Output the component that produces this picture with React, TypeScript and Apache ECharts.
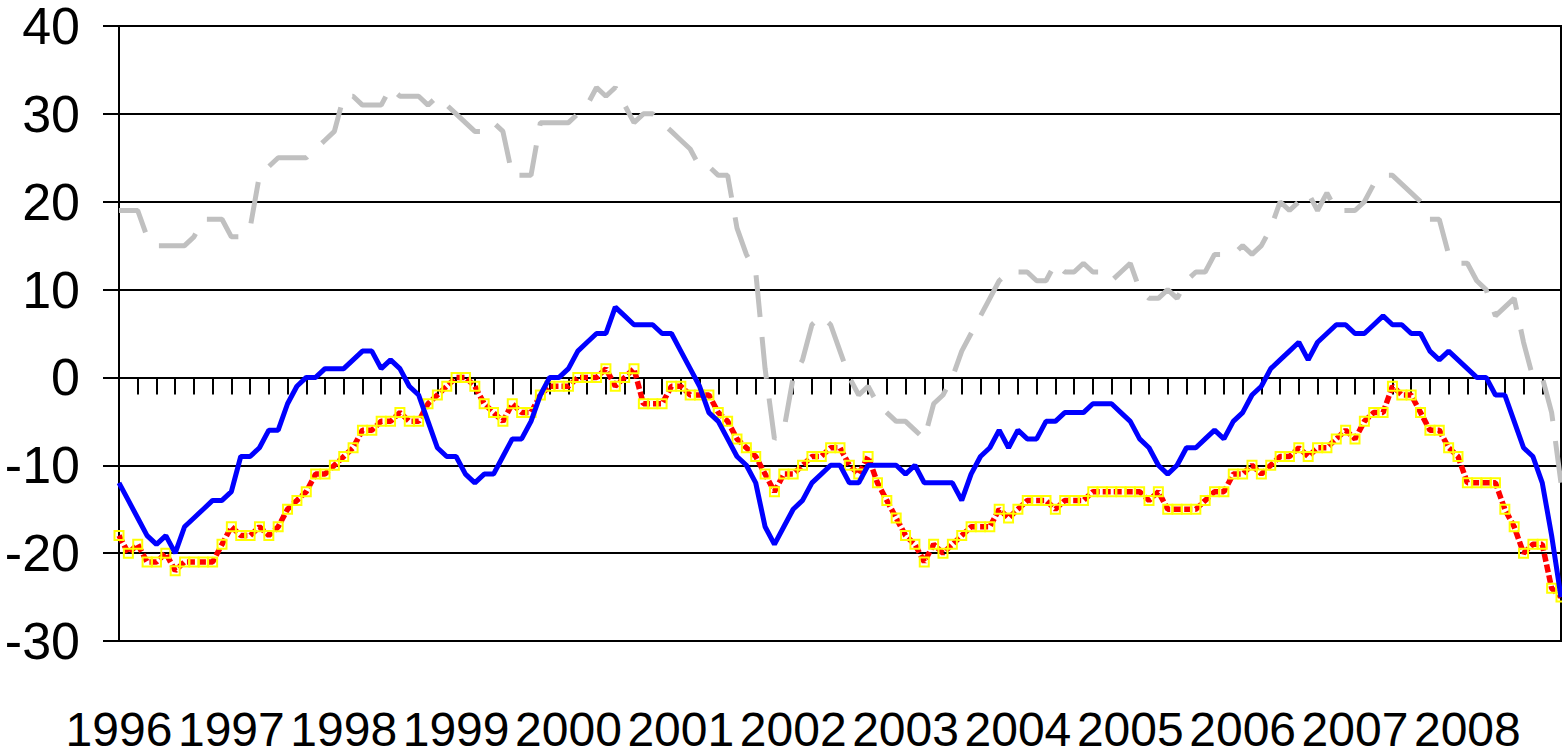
import { useEffect, useRef } from "react";
import * as echarts from "echarts";

// Monthly observations, January 1996 – November 2008
const years = [1996, 1997, 1998, 1999, 2000, 2001, 2002, 2003, 2004, 2005, 2006, 2007, 2008];

const blueSeries = [
  -12, -14, -16, -18, -19, -18, -20, -17, -16, -15, -14, -14,
  -13, -9, -9, -8, -6, -6, -3, -1, 0, 0, 1, 1,
  1, 2, 3, 3, 1, 2, 1, -1, -2, -5, -8, -9,
  -9, -11, -12, -11, -11, -9, -7, -7, -5, -2, 0, 0,
  1, 3, 4, 5, 5, 8, 7, 6, 6, 6, 5, 5,
  3, 1, -1, -4, -5, -7, -9, -10, -12, -17, -19, -17,
  -15, -14, -12, -11, -10, -10, -12, -12, -10, -10, -10, -10,
  -11, -10, -12, -12, -12, -12, -14, -11, -9, -8, -6, -8,
  -6, -7, -7, -5, -5, -4, -4, -4, -3, -3, -3, -4,
  -5, -7, -8, -10, -11, -10, -8, -8, -7, -6, -7, -5,
  -4, -2, -1, 1, 2, 3, 4, 2, 4, 5, 6, 6,
  5, 5, 6, 7, 6, 6, 5, 5, 3, 2, 3, 2,
  1, 0, 0, -2, -2, -5, -8, -9, -12, -18, -25,
];

const redSeries = [
  -18, -20, -19, -21, -21, -20, -22, -21, -21, -21, -21, -19,
  -17, -18, -18, -17, -18, -17, -15, -14, -13, -11, -11, -10,
  -9, -8, -6, -6, -5, -5, -4, -5, -5, -3, -2, -1,
  0, 0, -1, -3, -4, -5, -3, -4, -4, -2, -1, -1,
  -1, 0, 0, 0, 1, -1, 0, 1, -3, -3, -3, -1,
  -1, -2, -2, -2, -4, -5, -7, -8, -9, -11, -13, -11,
  -11, -10, -9, -9, -8, -8, -10, -11, -9, -12, -14, -16,
  -18, -19, -21, -19, -20, -19, -18, -17, -17, -17, -15, -16,
  -15, -14, -14, -14, -15, -14, -14, -14, -13, -13, -13, -13,
  -13, -13, -14, -13, -15, -15, -15, -15, -14, -13, -13, -11,
  -11, -10, -11, -10, -9, -9, -8, -9, -8, -8, -7, -6,
  -7, -5, -4, -4, -1, -2, -2, -4, -6, -6, -8, -9,
  -12, -12, -12, -12, -15, -17, -20, -19, -19, -24, -25,
];

const greySeries = [
  19, 19, 19, 16, 15, 15, 15, 15, 16, 18, 18, 18,
  16, 16, 17, 23, 24, 25, 25, 25, 25, 26, 27, 28,
  32, 32, 31, 31, 31, 33, 32, 32, 32, 31, 32, 31,
  30, 29, 28, 28, 29, 28, 23, 23, 23, 29, 29, 29,
  29, 30, 31, 33, 32, 33, 31, 29, 30, 30, 29, 28,
  27, 26, 24, 24, 23, 23, 17, 14, 12, 1, -7, -6,
  0, 2, 6, 7, 6, 3, 0, -2, -1, -3, -4, -5,
  -5, -6, -7, -3, -2, 0, 3, 5, 7, 9, 11, 12,
  12, 12, 11, 11, 13, 12, 12, 13, 12, 12, 11, 12,
  13, 10, 9, 9, 10, 9, 11, 12, 12, 14, 14, 14,
  15, 14, 15, 17, 20, 19, 20, 21, 19, 21, 19, 19,
  19, 20, 22, 23, 23, 22, 21, 20, 18, 18, 14, 13,
  13, 11, 10, 7, 8, 9, 4, 0, 0, -4, -12,
];

const months = years
  .flatMap((y) => Array.from({ length: 12 }, (_, m) => `${y}-${String(m + 1).padStart(2, "0")}`))
  .slice(0, blueSeries.length);

const FONT = "'Liberation Sans', Arial, Helvetica, sans-serif";
const black = { color: "#000", width: 2 };

export default function App() {
  const ref = useRef<HTMLDivElement>(null);

  useEffect(() => {
    if (!ref.current) return;
    const chart = echarts.init(ref.current, null, { renderer: "svg" });
    chart.setOption({
      animation: false,
      backgroundColor: "#fff",
      grid: {
        left: 119,
        top: 25,
        width: 1442,
        height: 616,
        show: true,
        borderColor: "#000",
        borderWidth: 2,
      },
      xAxis: [
        {
          type: "category",
          position: "bottom",
          data: months,
          boundaryGap: false,
          axisLine: { show: true, onZero: true, lineStyle: black },
          axisTick: { show: true, interval: 1, length: 17, lineStyle: black },
          axisLabel: { show: false },
          splitLine: { show: false },
        },
        {
          type: "category",
          position: "bottom",
          data: months,
          boundaryGap: false,
          axisLine: { show: false, onZero: false },
          axisTick: { show: false },
          splitLine: { show: false },
          axisLabel: {
            interval: (i: number) => i % 12 === 0,
            formatter: (v: string) => v.slice(0, 4),
            showMinLabel: true,
            hideOverlap: false,
            fontSize: 48,
            fontFamily: FONT,
            color: "#000",
            margin: 64,
          },
        },
      ],
      yAxis: {
        type: "value",
        min: -30,
        max: 40,
        interval: 10,
        axisLine: { show: true, onZero: false, lineStyle: black },
        axisTick: { show: true, length: 16, lineStyle: black },
        axisLabel: {
          fontSize: 52,
          lineHeight: 36,
          fontFamily: FONT,
          color: "#000",
          margin: 39,
          padding: [8, 0, 0, 0],
        },
        splitLine: { show: true, lineStyle: black },
      },
      series: [
        {
          type: "line",
          data: greySeries,
          symbol: "none",
          lineStyle: { color: "#C0C0C0", width: 5, type: [42, 20], cap: "butt" },
          z: 1,
        },
        {
          type: "line",
          data: redSeries,
          symbol: "rect",
          symbolSize: 9,
          showSymbol: true,
          showAllSymbol: true,
          itemStyle: { color: "rgba(0,0,0,0)", borderColor: "#FFFF00", borderWidth: 2 },
          lineStyle: { color: "#FF0000", width: 5.5, type: [8, 3] },
          z: 2,
        },
        {
          type: "line",
          data: blueSeries,
          symbol: "none",
          lineStyle: { color: "#0000FF", width: 5 },
          z: 3,
        },
      ],
    });
    return () => chart.dispose();
  }, []);

  return (
    <div
      ref={ref}
      style={{ position: "absolute", left: 0, top: 0, width: 1562, height: 754 }}
    />
  );
}
